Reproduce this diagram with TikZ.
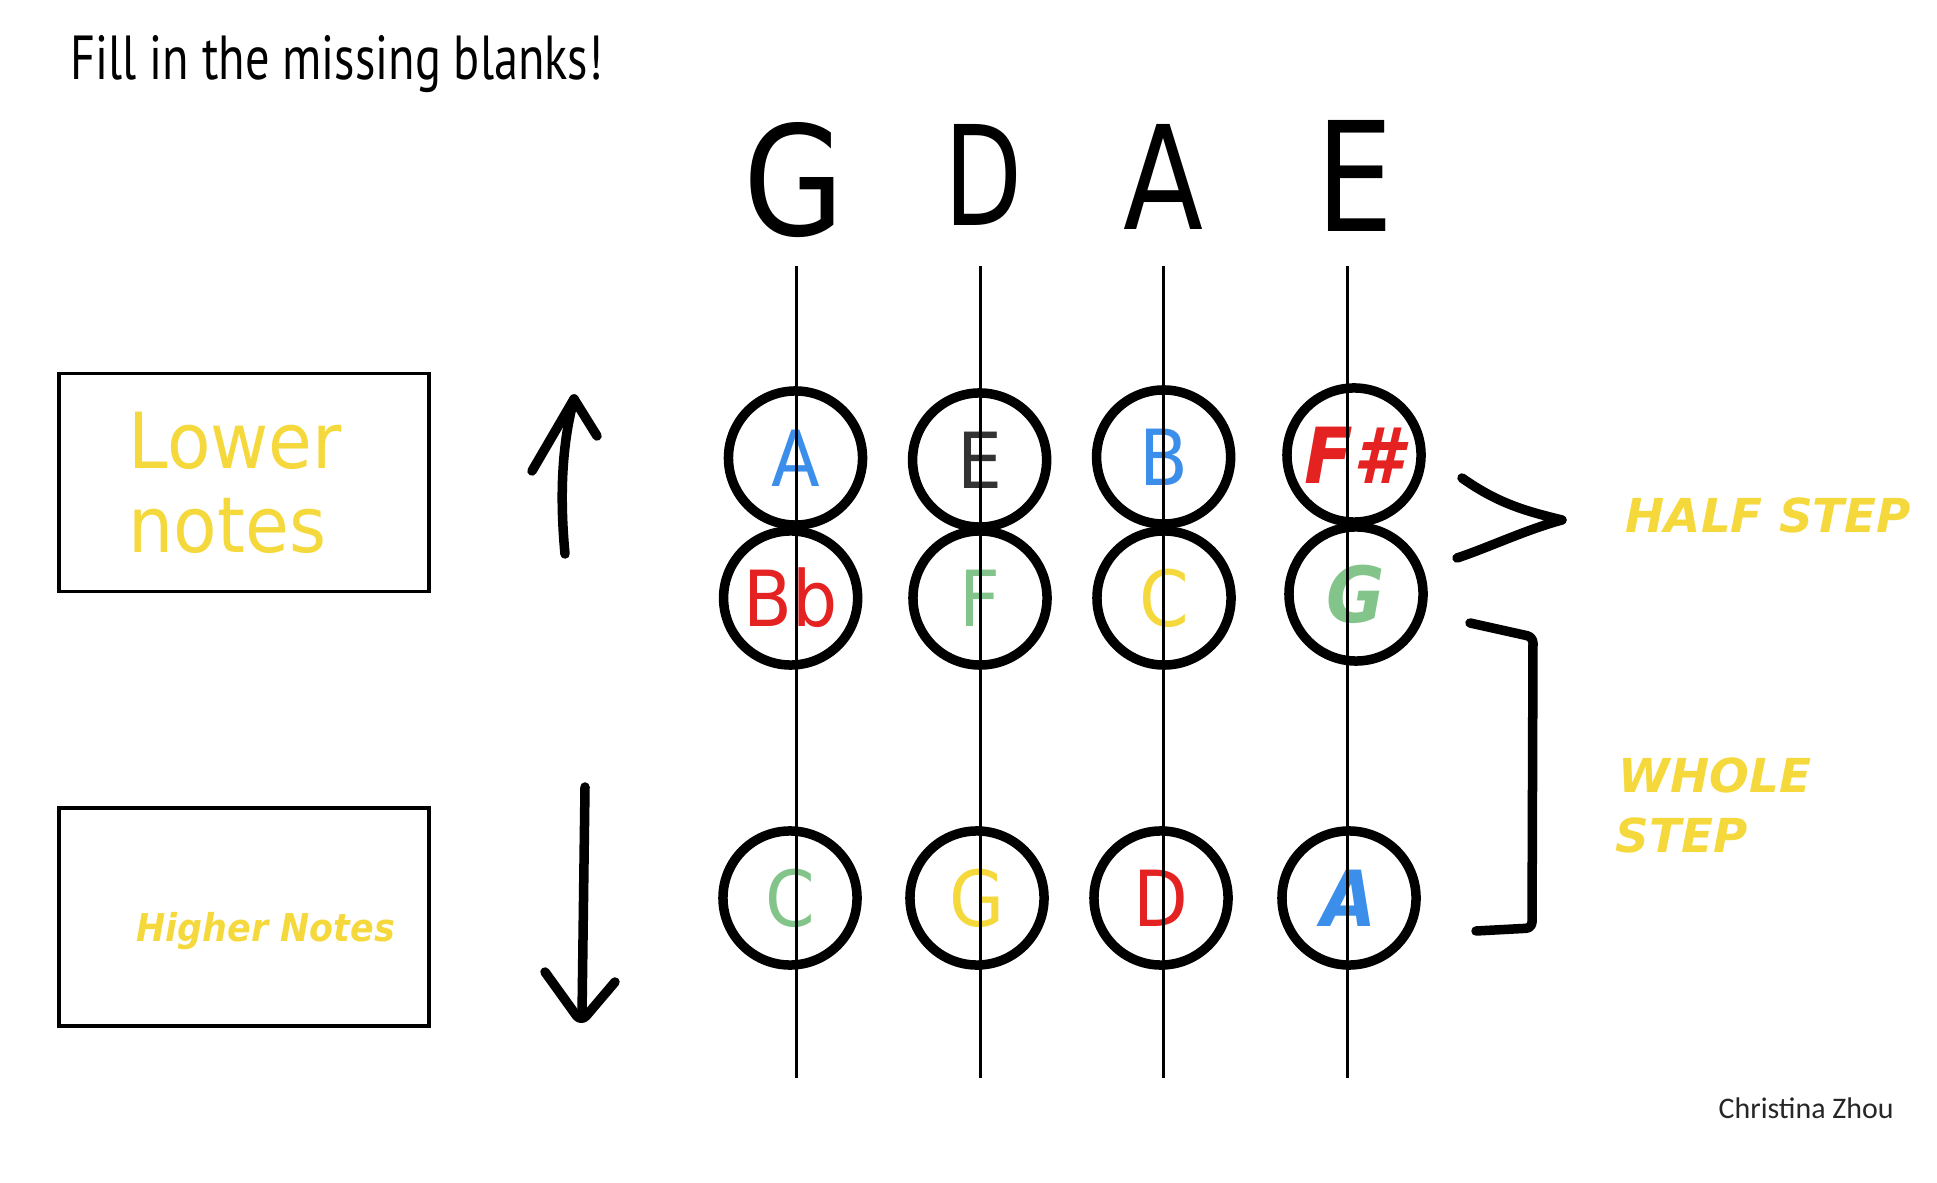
\documentclass[tikz,border=0pt]{standalone}
\usepackage{fontspec}
\usepackage{graphicx}
\setmainfont{DejaVu Sans}[ItalicFont={DejaVu Sans Oblique},BoldFont={DejaVu Sans Bold},BoldItalicFont={DejaVu Sans Bold Oblique}]
\newfontfamily\carl{Carlito}
\newfontfamily\ptsans{PT Sans}
\definecolor{nblue}{HTML}{3B8EEA}
\definecolor{nred}{HTML}{E42222}
\definecolor{ngreen}{HTML}{82C48A}
\definecolor{nyellow}{HTML}{F5D93C}
\definecolor{ngray}{HTML}{333333}
\newcommand{\nt}[1]{\scalebox{0.92}[1]{#1}}
\tikzset{
  strline/.style={line width=0.03cm, black},
  noteRing/.style={circle, draw=black, line width=0.095cm, minimum size=1.34cm, inner sep=0pt, font=\fontsize{22pt}{26pt}\selectfont},
  bi/.style={font=\fontsize{22pt}{26pt}\selectfont\bfseries\itshape},
  pen/.style={line width=0.095cm, line cap=round, line join=round},
  notebox/.style={draw, line width=0.035cm, minimum width=3.7cm, minimum height=2.18cm, inner sep=0pt},
  plain/.style={inner sep=0pt, anchor=base west},
  big/.style={inner sep=0pt, anchor=center},
  stepfont/.style={inner sep=0pt, anchor=base west, text=nyellow, font=\fontsize{13.3pt}{16pt}\selectfont\bfseries\itshape}
}
\begin{document}
\begin{tikzpicture}[x=0.01cm,y=-0.01cm]
\useasboundingbox (0,0) rectangle (1937,1183);
\fill[white] (0,0) rectangle (1937,1183);

% title
\node[plain] (title) at (70,80) {\ptsans\resizebox{5.32cm}{0.44cm}{Fill in the missing blanks!}};

% string names
\node[big] (lG) at (794.5,180.5) {\resizebox{1.01cm}{1.13cm}{G}};
\node[big] (lD) at (984,174.5) {\resizebox{0.78cm}{1.01cm}{D}};
\node[big] (lA) at (1164,176.5) {\resizebox{0.80cm}{1.05cm}{A}};
\node[big] (lE) at (1354.5,175.5) {\resizebox{0.77cm}{1.11cm}{E}};

% rings, row 1
\node[noteRing, text=nblue] (r1a) at (795.5,458) {\nt{A}};
\node[noteRing, text=ngray] (r1b) at (979.6,460) {\nt{E}};
\node[noteRing, text=nblue] (r1c) at (1163.6,457) {\nt{B}};
\node[noteRing, bi, text=nred] (r1d) at (1354,455) {\nt{F\#}};
% row 2
\node[noteRing, text=nred] (r2a) at (790.6,598) {\nt{Bb}};
\node[noteRing, text=ngreen] (r2b) at (980,598) {\nt{F}};
\node[noteRing, text=nyellow] (r2c) at (1164,598) {\nt{C}};
\node[noteRing, bi, text=ngreen] (r2d) at (1356,594) {\nt{G}};
% row 3
\node[noteRing, text=ngreen] (r3a) at (790,898) {\nt{C}};
\node[noteRing, text=nyellow] (r3b) at (977,898) {\nt{G}};
\node[noteRing, text=nred] (r3c) at (1161,898) {\nt{D}};
\node[noteRing, bi, text=nblue] (r3d) at (1349,898) {\nt{A}};

% strings
\coordinate (tG) at (796,266); \coordinate (bG) at (796,1078);
\coordinate (tD) at (980,266); \coordinate (bD) at (980,1078);
\coordinate (tA) at (1163.5,266); \coordinate (bA) at (1163.5,1078);
\coordinate (tE) at (1347,266); \coordinate (bE) at (1347,1078);
\draw[strline] (tG) -- (bG);
\draw[strline] (tD) -- (bD);
\draw[strline] (tA) -- (bA);
\draw[strline] (tE) -- (bE);

% boxes
\node[notebox] (lowbox) at (244,482.5) {};
\node[notebox] (highbox) at (244,917) {};
\node[plain, text=nyellow, font=\fontsize{22pt}{26pt}\selectfont] (low1) at (128,469) {\nt{Lower}};
\node[plain, text=nyellow, font=\fontsize{22pt}{26pt}\selectfont] (low2) at (128,553) {\nt{notes}};
\node[plain, text=nyellow, font=\fontsize{10.9pt}{13pt}\selectfont\bfseries\itshape] (high) at (136,941) {\scalebox{0.91}[1]{Higher Notes}};

% up arrow
\coordinate (u0) at (565,554); \coordinate (u1) at (574,399);
\coordinate (uL) at (532,471); \coordinate (uR) at (597,436);
\draw[pen] (u0) .. controls (559,490) and (563,440) .. (u1);
\draw[pen] (uL) -- (u1) -- (uR);

% down arrow
\coordinate (d0) at (585,787); \coordinate (d1) at (581,1022);
\coordinate (dL) at (545,972); \coordinate (dR) at (615,982);
\draw[pen] (d0) -- (582,1015);
\draw[pen, rounded corners=0.08cm] (dL) -- (d1) -- (dR);

% half step bracket
\coordinate (h0) at (1462,478); \coordinate (h1) at (1562,520); \coordinate (h2) at (1457,558);
\draw[pen] (h0) .. controls (1500,505) and (1530,512) .. (h1) .. controls (1525,530) and (1490,547) .. (h2);

% whole step bracket
\coordinate (w0) at (1470,623); \coordinate (w1) at (1533,637);
\coordinate (w2) at (1532,928); \coordinate (w3) at (1476,931);
\draw[pen, rounded corners=0.06cm] (w0) -- (w1) -- (w2) -- (w3);

% labels
\node[stepfont] (half) at (1625,533) {HALF STEP};
\node[stepfont] (whole1) at (1618,793) {WHOLE};
\node[stepfont] (whole2) at (1615,852) {STEP};

\node[plain, font=\carl\fontsize{8.5pt}{10pt}\selectfont, text=black!85] (author) at (1718,1118) {Christina Zhou};
\end{tikzpicture}
\end{document}
